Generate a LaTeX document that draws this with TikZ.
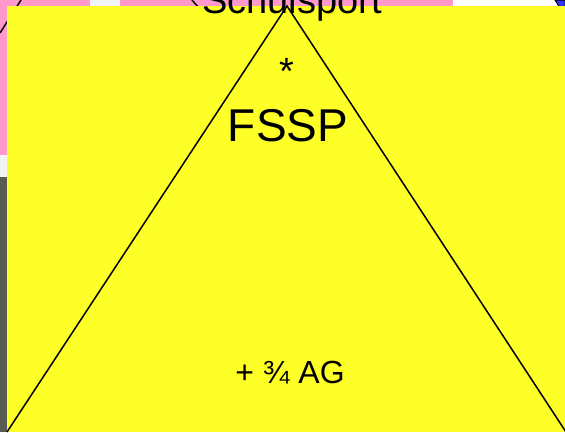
\documentclass[tikz,border=0pt]{standalone}
\usepackage{fontspec}
\setmainfont{Liberation Sans}
\definecolor{bgyellow}{RGB}{255,255,40}
\definecolor{bgpink}{RGB}{255,153,204}
\definecolor{bggray}{RGB}{90,90,85}
\definecolor{bgblue}{RGB}{51,51,255}
\definecolor{bgwhite}{RGB}{243,243,246}
\tikzset{
  lbl/.style={inner sep=0pt, anchor=base, text=black},
  edge/.style={draw=black, line width=1.5pt},
}
\begin{document}
\begin{tikzpicture}[x=1pt,y=-1pt]
\useasboundingbox (0,0) rectangle (565,432);
\fill[white] (0,0) rectangle (565,432);
% background pieces
\fill[bgpink] (0,0) rectangle (90,155);
\fill[bgwhite] (90,0) rectangle (120,8);
\fill[bgpink] (120,0) rectangle (453,8);
\fill[bgwhite] (0,155) rectangle (7,177);
\fill[bggray] (0,177) rectangle (7,432);
\filldraw[fill=bgblue, draw=black, line width=1pt] (555,0) -- (565,0) -- (565,8) -- (560,8) -- cycle;
\draw[edge] (0,33) -- (21,0);
\draw[edge] (192,0) -- (199,8);
% yellow panel
\fill[bgyellow] (7,6) rectangle (565,432);
% triangle
\coordinate (apex) at (287,6);
\coordinate (bl) at (7,432);
\coordinate (br) at (566,432);
\draw[edge, line join=miter] (bl) -- (apex) -- (br);
% texts
\node[lbl, font=\fontsize{38}{40}\selectfont] (schul) at (292,13) {Schulsport};
\node[lbl, font=\fontsize{38}{40}\selectfont] (star) at (287,84) {*};
\node[lbl, font=\fontsize{46}{48}\selectfont] (fssp) at (288,141) {FSSP};
\node[lbl, font=\fontsize{32}{34}\selectfont] (ag) at (290,383) {+ ¾ AG};
\end{tikzpicture}
\end{document}
